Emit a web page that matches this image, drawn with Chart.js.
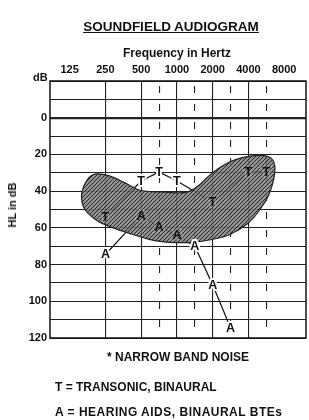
<!DOCTYPE html>
<html>
<head>
<meta charset="utf-8">
<script src="https://cdn.jsdelivr.net/npm/chart.js@4/dist/chart.umd.min.js"></script>
<style>
  html,body{margin:0;padding:0;background:#fff;}
  #wrap{position:relative;width:309px;height:420px;overflow:hidden;font-family:"Liberation Sans",Arial,Helvetica,sans-serif;color:#111;}
  canvas{position:absolute;left:0;top:0;}
  .t{position:absolute;font-weight:bold;white-space:nowrap;}
</style>
</head>
<body>
<div id="wrap">
  <canvas id="c" width="309" height="420"></canvas>
  <div class="t" style="left:0;width:342px;text-align:center;top:20px;font-size:13.5px;line-height:13px;text-decoration:underline;">SOUNDFIELD AUDIOGRAM</div>
  <div class="t" style="left:0;width:354px;text-align:center;top:47px;font-size:12px;line-height:12px;">Frequency in Hertz</div>
  <div class="t" style="left:33px;top:71px;font-size:11px;line-height:12px;">dB</div>
  <div class="t" style="left:12px;top:205px;font-size:11px;line-height:12px;transform:translate(-50%,-50%) rotate(-90deg);">HL in dB</div>
  <div class="t" style="left:107px;top:351px;font-size:12px;line-height:12px;">* NARROW BAND NOISE</div>
  <div class="t" style="left:55px;top:381px;font-size:12px;line-height:12px;">T = TRANSONIC, BINAURAL</div>
  <div class="t" style="left:55px;top:406px;font-size:12px;line-height:12px;letter-spacing:0.5px;">A = HEARING AIDS, BINAURAL BTEs</div>
</div>
<script>
// ---- data ----
const freqTickLabels = ['125','250','500','1000','2000','4000','8000'];
const dbTickValues = [0,20,40,60,80,100,120];

const transonicFreqs  = [250, 500, 750, 1000, 2000, 4000, 6000];
const transonicLevels = [54, 34.5, 29.5, 34.5, 46, 29.5, 29.5];

const aidFreqs  = [250, 500, 750, 1000, 1500, 2000, 3000];
const aidLevels = [74.5, 53.5, 59.5, 64, 70, 91, 114.5];

// speech-area outline (frequency, dB HL)
const bananaFreqs  = [158, 175, 204, 273, 379, 488, 792, 1287, 2091, 3078, 4810, 6200, 6685, 6067, 5000, 3962, 2795, 1896, 1287, 719, 426, 225, 178, 162];
const bananaLevels = [41, 34, 30.7, 31.8, 36, 39.5, 40.5, 40, 29, 23, 20.5, 22, 28, 40.5, 50, 57.5, 63.6, 66.5, 68, 67.4, 63.6, 57, 52, 48];

function pos(f){ return Math.log2(f/125); }
// audiogram spacing: octaves evenly spaced, mid-octaves halfway
function posAudio(f){
  const o = Math.log2(f/125);
  if (Math.abs(o - Math.round(o)) < 1e-6) return o;
  return Math.log2(f/1.5/125) + 0.5;
}
const toXY = (fs, ls, p) => fs.map((f,i)=>({x:p(f), y:ls[i]}));

function hatch(){
  const s = 4;
  const c = document.createElement('canvas'); c.width = c.height = s;
  const g = c.getContext('2d');
  g.fillStyle = 'rgba(125,125,125,0.85)'; g.fillRect(0,0,s,s);
  g.strokeStyle = 'rgba(20,20,20,0.8)'; g.lineWidth = 1;
  g.beginPath();
  g.moveTo(0,s); g.lineTo(s,0);
  g.moveTo(-1,1); g.lineTo(1,-1);
  g.moveTo(s-1,s+1); g.lineTo(s+1,s-1);
  g.stroke();
  return g.createPattern(c,'repeat');
}
const hatchPattern = hatch();

const XMIN = -0.55, XMAX = 6.61;

const letterPlugin = {
  id:'letters',
  afterDatasetUpdate(chart, args){
    const ds = chart.data.datasets[args.index];
    if (ds.closed) { const l = args.meta.dataset; l._loop = true; l._fullLoop = true; }
  },
  afterDraw(chart){
    const ctx = chart.ctx, a = chart.chartArea;
    ctx.save();
    ctx.strokeStyle = '#111'; ctx.lineWidth = 1.5;
    ctx.strokeRect(a.left, a.top, a.right-a.left, a.bottom-a.top);
    // banana path for inside test
    const bMeta = chart.getDatasetMeta(0);
    const bp = new Path2D();
    const pts = bMeta.data;
    // rebuild polygon from element path if possible
    let bananaPath = bMeta.dataset && bMeta.dataset._path;
    if (!bananaPath) {
      pts.forEach((p,i)=> i ? bp.lineTo(p.x,p.y) : bp.moveTo(p.x,p.y)); bp.closePath(); bananaPath = bp;
    }
    ctx.font = 'bold 12.5px "Liberation Sans", Arial, sans-serif';
    ctx.textAlign = 'center'; ctx.textBaseline = 'middle';
    ctx.lineJoin = 'round';
    chart.data.datasets.forEach((ds,i)=>{
      if (!ds.letter) return;
      chart.getDatasetMeta(i).data.forEach(pt=>{
        const x = pt.x, y = pt.y + 0.5;
        ctx.lineWidth = 4;
        ctx.strokeStyle = '#fff';
        ctx.strokeText(ds.letter, x, y);
        if (ctx.isPointInPath(bananaPath, pt.x, pt.y)) {
          ctx.strokeStyle = hatchPattern;
          ctx.strokeText(ds.letter, x, y);
        }
        ctx.fillStyle = '#111';
        ctx.fillText(ds.letter, x, y);
      });
    });
    ctx.restore();
  }
};

new Chart(document.getElementById('c'), {
  type:'scatter',
  data:{
    datasets:[
      {label:'speech', data:toXY(bananaFreqs, bananaLevels, pos), showLine:true, closed:true, spanGaps:true,
       tension:0.4, borderColor:'#222', borderWidth:1.2, pointRadius:0, fill:'shape', backgroundColor:hatchPattern},
      {label:'T', letter:'T', data:toXY(transonicFreqs, transonicLevels, posAudio), showLine:true,
       borderColor:'#111', borderWidth:1.2, pointRadius:0, fill:false},
      {label:'A', letter:'A', data:toXY(aidFreqs, aidLevels, posAudio), showLine:true,
       borderColor:'#111', borderWidth:1.2, pointRadius:0, fill:false}
    ]
  },
  options:{
    responsive:false, animation:false, events:[],
    layout:{padding:{left:0, right:3, top:61, bottom:82}},
    plugins:{legend:{display:false}, tooltip:{enabled:false}},
    scales:{
      x:{
        type:'linear', position:'top', min:XMIN, max:XMAX, z:1,
        afterBuildTicks:s=>{ s.ticks = freqTickLabels.map((t,i)=>({value:i})); },
        afterFit:s=>{ s.height = 20; },
        ticks:{ padding:4, color:'#111', font:{family:'"Liberation Sans", Arial, sans-serif', size:11, weight:'bold'},
          callback:(v)=>freqTickLabels[Math.round(v)], maxRotation:0, autoSkip:false },
        grid:{ drawTicks:false, lineWidth:1.1,
          color:c=> (c.tick && c.tick.value>=1 && c.tick.value<=5) ? '#222' : 'rgba(0,0,0,0)' },
        border:{display:false}
      },
      x2:{
        type:'linear', position:'top', min:XMIN, max:XMAX, z:1,
        afterBuildTicks:s=>{ s.ticks = [2.5,3.5,4.5,5.5].map(v=>({value:v})); },
        afterFit:s=>{ s.height = 0; },
        ticks:{display:false},
        grid:{ drawTicks:false, lineWidth:1.1, color:'#222' },
        border:{display:false, dash:[7,11], dashOffset:13}
      },
      y:{
        type:'linear', reverse:true, min:-20, max:120, z:1,
        afterBuildTicks:s=>{ const t=[]; for(let v=-20; v<=120; v+=10) t.push({value:v}); s.ticks=t; },
        afterFit:s=>{ s.width = 50; },
        ticks:{ padding:3, color:'#111', font:{family:'"Liberation Sans", Arial, sans-serif', size:11, weight:'bold'},
          callback:v=> dbTickValues.includes(v) ? String(v) : '' , autoSkip:false},
        grid:{ drawTicks:false, color:'#222', lineWidth:c=> (c.tick && c.tick.value===0) ? 2.2 : 1 },
        border:{display:false}
      }
    }
  },
  plugins:[letterPlugin]
});
</script>
</body>
</html>
